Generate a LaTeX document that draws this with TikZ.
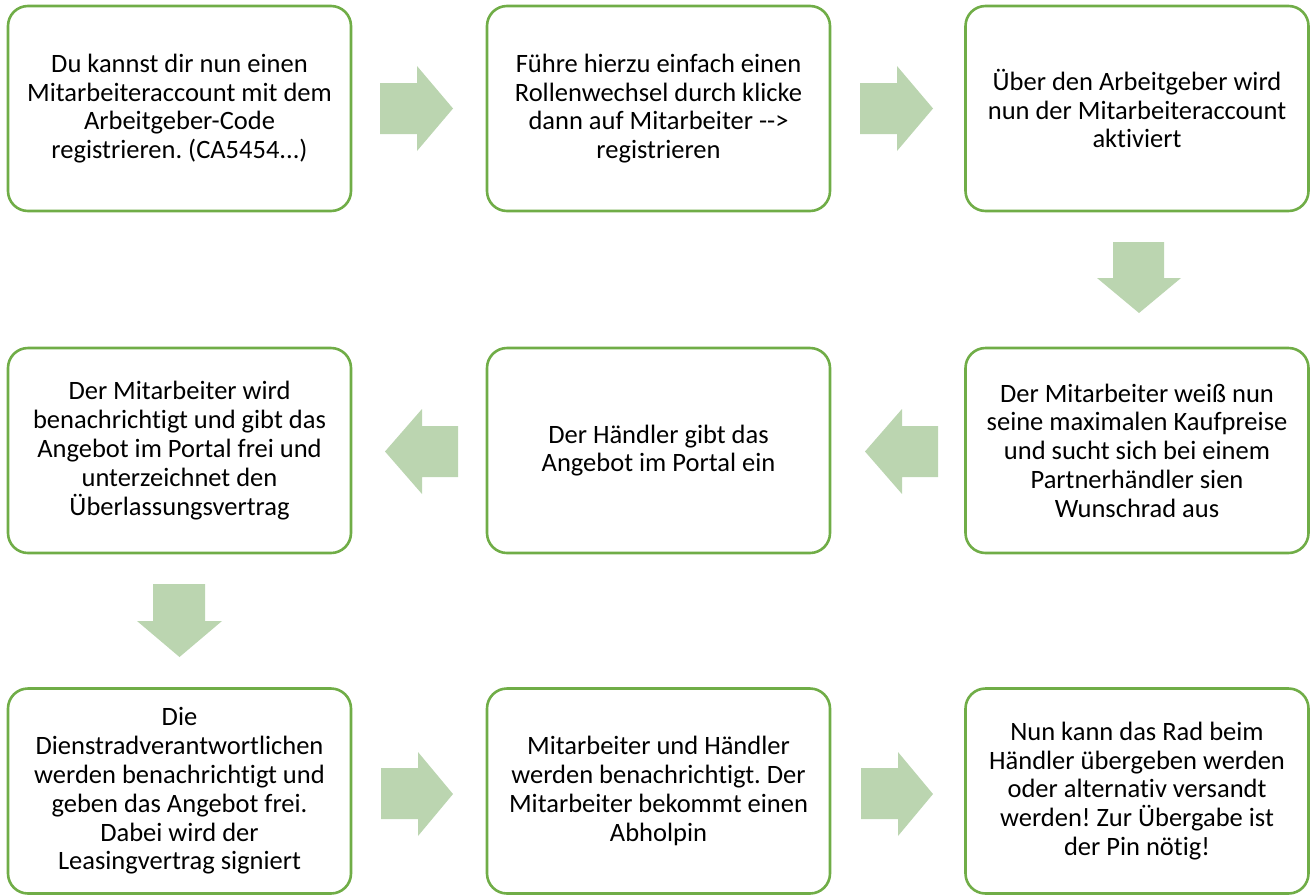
\documentclass[tikz,border=0pt]{standalone}
\usepackage{fontspec}
\setmainfont{Carlito}[Ligatures={NoCommon}]
\definecolor{boxgreen}{RGB}{112,173,71}
\definecolor{arrowgreen}{RGB}{187,213,176}
\begin{document}
\begin{tikzpicture}[x=1pt,y=-1pt,
  stepbox/.style={draw=boxgreen, line width=2.6pt, rounded corners=20pt, fill=white,
    minimum width=343pt, minimum height=205pt, inner sep=0pt, align=center,
    font=\fontsize{26.5}{28.8}\selectfont\frenchspacing},
  arr/.style={fill=arrowgreen, draw=none}]
\useasboundingbox (0,0) rectangle (1312,895);
% row 1
\node[stepbox] (b1) at (179.5,108.5) {Du kannst dir nun einen\\Mitarbeiteraccount mit dem\\Arbeitgeber-Code\\registrieren. (CA5454...)};
\node[stepbox] (b2) at (658.5,108.5) {Führe hierzu einfach einen\\Rollenwechsel durch klicke\\dann auf Mitarbeiter -{}->\\registrieren};
\node[stepbox] (b3) at (1137,108.5) {Über den Arbeitgeber wird\\nun der Mitarbeiteraccount\\aktiviert};
% row 2
\node[stepbox] (b6) at (1137,450.5) {Der Mitarbeiter weiß nun\\seine maximalen Kaufpreise\\und sucht sich bei einem\\Partnerhändler sien\\Wunschrad aus};
\node[stepbox] (b5) at (658.5,450.5) {Der Händler gibt das\\Angebot im Portal ein};
\node[stepbox] (b4) at (179.5,450.5) {Der Mitarbeiter wird\\benachrichtigt und gibt das\\Angebot im Portal frei und\\unterzeichnet den\\Überlassungsvertrag};
% row 3
\node[stepbox] (b7) at (179.5,791) {Die\\Dienstradverantwortlichen\\werden benachrichtigt und\\geben das Angebot frei.\\Dabei wird der\\Leasingvertrag signiert};
\node[stepbox] (b8) at (658.5,791) {Mitarbeiter und Händler\\werden benachrichtigt. Der\\Mitarbeiter bekommt einen\\Abholpin};
\node[stepbox] (b9) at (1137,791) {Nun kann das Rad beim\\Händler übergeben werden\\oder alternativ versandt\\werden! Zur Übergabe ist\\der Pin nötig!};
% right arrows row 1
\fill[arr] (380,83) -- (417,83) -- (417,66) -- (453,108.5) -- (417,151) -- (417,134) -- (380,134) -- cycle;
\fill[arr] (860,83) -- (897,83) -- (897,66) -- (933,108.5) -- (897,151) -- (897,134) -- (860,134) -- cycle;
% down arrow col 3
\fill[arr] (1113,242) -- (1164,242) -- (1164,278) -- (1181,278) -- (1139,313) -- (1097,278) -- (1113,278) -- cycle;
% left arrows row 2
\fill[arr] (938,426) -- (902,426) -- (902,409) -- (865,451.5) -- (902,494) -- (902,477) -- (938,477) -- cycle;
\fill[arr] (458,426) -- (422,426) -- (422,409) -- (385,451.5) -- (422,494) -- (422,477) -- (458,477) -- cycle;
% down arrow col 1
\fill[arr] (153,584) -- (205,584) -- (205,621) -- (222,621) -- (179.5,657) -- (137,621) -- (153,621) -- cycle;
% right arrows row 3
\fill[arr] (381,768) -- (418,768) -- (418,752) -- (453,794) -- (418,836) -- (418,819) -- (381,819) -- cycle;
\fill[arr] (861,768) -- (898,768) -- (898,752) -- (933,794) -- (898,836) -- (898,819) -- (861,819) -- cycle;
\end{tikzpicture}
\end{document}
